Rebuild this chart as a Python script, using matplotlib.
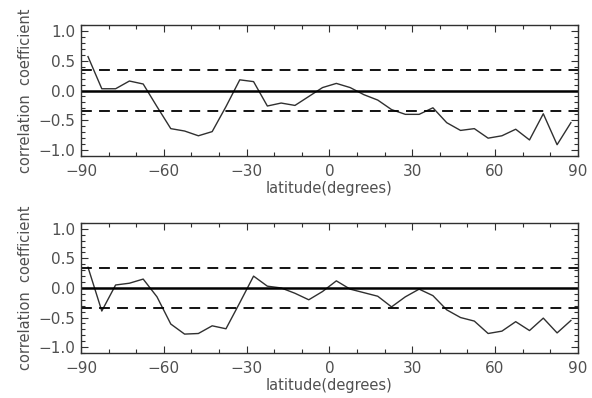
import matplotlib
matplotlib.use("Agg")
import matplotlib.pyplot as plt
from matplotlib.ticker import MultipleLocator

# latitude bin centres (5 degree bins)
lat = [-87.5, -82.5, -77.5, -72.5, -67.5, -62.5, -57.5, -52.5, -47.5, -42.5,
       -37.5, -32.5, -27.5, -22.5, -17.5, -12.5, -7.5, -2.5, 2.5, 7.5,
       12.5, 17.5, 22.5, 27.5, 32.5, 37.5, 42.5, 47.5, 52.5, 57.5,
       62.5, 67.5, 72.5, 77.5, 82.5, 87.5]

corr_top = [0.57, 0.03, 0.03, 0.16, 0.11, -0.27, -0.64, -0.68, -0.76, -0.69,
            -0.27, 0.18, 0.15, -0.26, -0.21, -0.25, -0.10, 0.05, 0.12, 0.05,
            -0.07, -0.16, -0.32, -0.40, -0.40, -0.29, -0.54, -0.67, -0.64, -0.80,
            -0.76, -0.65, -0.83, -0.39, -0.91, -0.54]

corr_bot = [0.35, -0.39, 0.05, 0.08, 0.15, -0.15, -0.61, -0.78, -0.77, -0.64,
            -0.69, -0.25, 0.20, 0.03, 0.00, -0.09, -0.20, -0.06, 0.12, -0.02,
            -0.08, -0.14, -0.32, -0.15, -0.02, -0.13, -0.37, -0.50, -0.56, -0.77,
            -0.73, -0.57, -0.72, -0.51, -0.76, -0.55]

sig_level = 0.34
xticks = [-90, -60, -30, 0, 30, 60, 90]
yticks = [-1.0, -0.5, 0.0, 0.5, 1.0]

txt = "#505050"
plt.rcParams['font.family'] = ['DejaVu Sans']

fig = plt.figure(figsize=(5.92, 3.98), dpi=100)
ax_top = fig.add_axes([0.137, 0.608, 0.839, 0.329])
ax_bot = fig.add_axes([0.137, 0.113, 0.839, 0.327])

for ax, vals in [(ax_top, corr_top), (ax_bot, corr_bot)]:
    ax.plot(lat, vals, color="#303030", lw=1.0)
    ax.axhline(0, color="black", lw=1.8)
    ax.axhline(sig_level, color="black", lw=1.3, ls=(0, (6, 4)))
    ax.axhline(-sig_level, color="black", lw=1.3, ls=(0, (6, 4)))
    ax.set_xlim(-90, 90)
    ax.set_ylim(-1.1, 1.1)
    ax.set_xticks(xticks)
    ax.set_xticklabels([str(t).replace("-", "\u2212") for t in xticks])
    ax.set_yticks(yticks)
    ax.set_yticklabels(["%.1f" % t if t >= 0 else "\u2212%.1f" % -t for t in yticks])
    ax.xaxis.set_minor_locator(MultipleLocator(10))
    ax.yaxis.set_minor_locator(MultipleLocator(0.1))
    ax.tick_params(which="both", direction="in", top=True, right=True,
                   colors="#303030", labelcolor=txt, labelsize=11, width=0.8)
    ax.tick_params(which="major", length=5)
    ax.tick_params(axis="x", which="major", pad=6)
    ax.tick_params(axis="y", which="major", pad=4)
    ax.tick_params(which="minor", length=3)
    for s in ax.spines.values():
        s.set_color("#303030")
        s.set_linewidth(1.0)
    ax.set_xlabel("latitude(degrees)", color=txt, fontsize=10.5, labelpad=1)
    ax.set_ylabel("correlation  coefficient", color=txt, fontsize=10.5, labelpad=4)

fig.savefig("out.png", dpi=100)
